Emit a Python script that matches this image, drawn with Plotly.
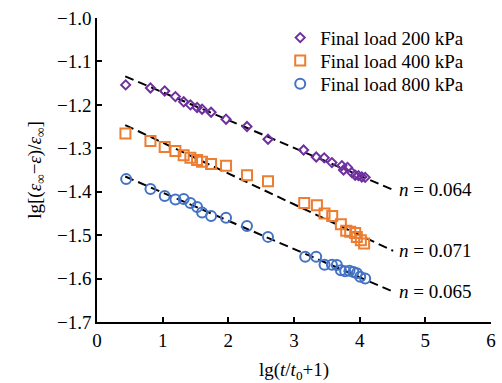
import plotly.graph_objects as go

# Settlement data: lg(t/t0+1) against lg[(eps_inf - eps)/eps_inf]
x_200 = [0.437, 0.814, 1.031, 1.194, 1.320, 1.422, 1.524, 1.600, 1.737, 1.965, 2.284, 2.604,
         3.146, 3.338, 3.460, 3.577, 3.729, 3.754, 3.815, 3.881, 3.932, 3.982, 4.033, 4.084]
y_200 = [-1.154, -1.161, -1.168, -1.181, -1.193, -1.200, -1.206, -1.210, -1.217, -1.233, -1.250, -1.279,
         -1.304, -1.320, -1.322, -1.333, -1.340, -1.350, -1.344, -1.356, -1.362, -1.363, -1.366, -1.367]

x_400 = [0.433, 0.814, 1.031, 1.194, 1.320, 1.422, 1.524, 1.600, 1.737, 1.965, 2.284, 2.604,
         3.156, 3.349, 3.465, 3.582, 3.714, 3.795, 3.856, 3.932, 3.957, 4.018, 4.068]
y_400 = [-1.266, -1.283, -1.297, -1.306, -1.316, -1.322, -1.327, -1.331, -1.336, -1.340, -1.362, -1.376,
         -1.426, -1.431, -1.450, -1.456, -1.475, -1.490, -1.492, -1.495, -1.504, -1.512, -1.519]

x_800 = [0.444, 0.814, 1.031, 1.194, 1.320, 1.422, 1.524, 1.600, 1.737, 1.965, 2.284, 2.604,
         3.171, 3.338, 3.465, 3.577, 3.653, 3.714, 3.779, 3.845, 3.906, 3.957, 4.008, 4.084]
y_800 = [-1.371, -1.394, -1.410, -1.418, -1.417, -1.426, -1.435, -1.448, -1.456, -1.460, -1.479, -1.504,
         -1.550, -1.550, -1.568, -1.568, -1.569, -1.581, -1.583, -1.582, -1.585, -1.588, -1.596, -1.600]

# Fitted lines: y = a - n * x
n_vals = [0.064, 0.071, 0.065]
a_vals = [-1.107, -1.216, -1.337]
fit_x = [0.43, 4.51]

names = ["Final load 200 kPa", "Final load 400 kPa", "Final load 800 kPa"]
colors = ["#7030A0", "#ED7D31", "#4472C4"]
symbols = ["diamond-open", "square-open", "circle-open"]
sizes = [7, 10, 10]
xs = [x_200, x_400, x_800]
ys = [y_200, y_400, y_800]

FONT = "Liberation Serif, Times New Roman, serif"

fig = go.Figure()

for a, n in zip(a_vals, n_vals):
    fig.add_trace(go.Scatter(
        x=fit_x, y=[a - n * v for v in fit_x], mode="lines",
        line=dict(color="black", width=2, dash="9px,5px"),
        showlegend=False, hoverinfo="skip"))

legend_ids = ["legend", "legend2", "legend3"]
for i in range(3):
    fig.add_trace(go.Scatter(
        x=xs[i], y=ys[i], mode="markers", name=names[i],
        marker=dict(symbol=symbols[i], size=sizes[i], color=colors[i],
                    line=dict(width=2, color=colors[i])),
        legend=legend_ids[i]))

for a, n in zip(a_vals, n_vals):
    fig.add_annotation(
        x=fit_x[1] + 0.02, y=a - n * fit_x[1], xanchor="left", yanchor="middle",
        xshift=3, text=f"<i>n</i> = {n:.3f}", showarrow=False,
        font=dict(family=FONT, size=19, color="black"))

axis_common = dict(
    showline=True, linecolor="black", linewidth=1.6, mirror=False,
    ticks="inside", ticklen=5, tickwidth=1.6, tickcolor="black",
    showgrid=False, zeroline=False, automargin=False,
    tickfont=dict(family=FONT, size=19, color="black"),
)

legend_common = dict(font=dict(family=FONT, size=19, color="black"),
                     bgcolor="rgba(0,0,0,0)", borderwidth=0,
                     xanchor="left", yanchor="middle", itemwidth=30)

fig.update_layout(
    width=502, height=383,
    margin=dict(l=97, r=11, t=18, b=61),
    paper_bgcolor="white", plot_bgcolor="white",
    xaxis=dict(range=[0, 6], dtick=1, tick0=0,
               title=dict(text="lg(<i>t</i>/<i>t</i><sub>0</sub>+1)", standoff=18,
                          font=dict(family=FONT, size=19, color="black")),
               **axis_common),
    yaxis=dict(range=[-1.7, -1.0], dtick=0.1, tick0=-1.0, tickformat=".1f",
               title=dict(text="lg[(<i>ε</i><sub>∞</sub>−<i>ε</i>)/<i>ε</i><sub>∞</sub>]", standoff=10,
                          font=dict(family=FONT, size=19, color="black")),
               **axis_common),
    legend=dict(x=0.465, y=0.935, **legend_common),
    legend2=dict(x=0.465, y=0.86, **legend_common),
    legend3=dict(x=0.465, y=0.783, **legend_common),
)

fig.write_html("out.html")
